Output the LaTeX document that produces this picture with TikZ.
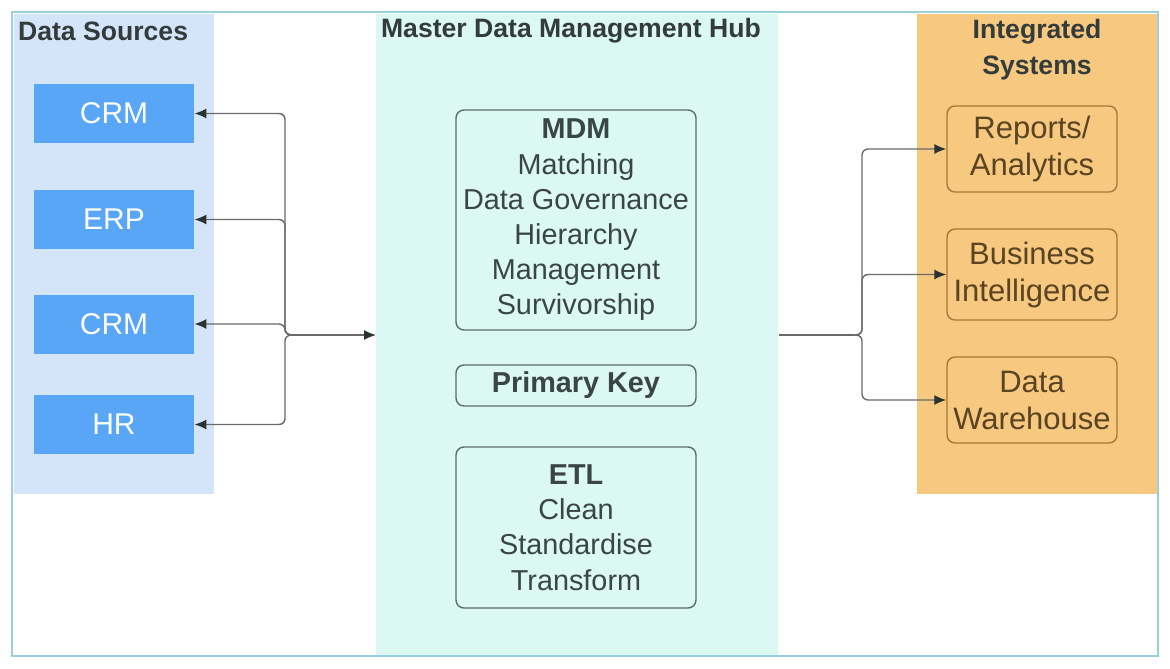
\documentclass[tikz,border=0pt]{standalone}
\usepackage{fontspec}
\setmainfont{Liberation Sans}
\usepackage{tikz}
\usetikzlibrary{arrows.meta}

\definecolor{srcbg}{HTML}{D5E5F9}
\definecolor{hubbg}{HTML}{DCF8F3}
\definecolor{sysbg}{HTML}{F6C880}
\definecolor{srcblue}{HTML}{58A6F5}
\definecolor{hubline}{HTML}{5E6B6A}
\definecolor{hubtext}{HTML}{3A4644}
\definecolor{sysline}{HTML}{A57A35}
\definecolor{systext}{HTML}{5A4422}
\definecolor{titletext}{HTML}{333B3B}
\definecolor{connline}{HTML}{6A6A6A}
\definecolor{tipcol}{HTML}{2A3232}
\definecolor{frameline}{HTML}{9AD0DC}

\begin{document}
\begin{tikzpicture}[x=0.5pt,y=-0.5pt,
  panel/.style={anchor=north west,inner sep=0pt},
  title/.style={font=\bfseries\fontsize{13.3}{18}\selectfont,text=titletext},
  src/.style={fill=srcblue,text=white,minimum width=80pt,minimum height=29.5pt,inner sep=0pt,font=\fontsize{15}{18}\selectfont},
  hubbox/.style={draw=hubline,line width=0.7pt,rounded corners=4pt,minimum width=120pt,inner sep=0pt,align=center,text=hubtext,font=\fontsize{14.4}{17.6}\selectfont},
  sysbox/.style={draw=sysline,line width=0.7pt,rounded corners=4pt,minimum width=85pt,inner sep=0pt,align=center,text=systext,font=\fontsize{15.5}{18.5}\selectfont},
  conn/.style={draw=connline,line width=0.7pt,rounded corners=3pt},
  tip/.style={-{Latex[length=6pt,width=5pt,color=tipcol]}}
]

\useasboundingbox (0,0) rectangle (1170,668);
\fill[white] (0,0) rectangle (1170,668);

% the three columns
\node[panel,fill=srcbg,minimum width=100pt,minimum height=240pt] (srcpanel) at (14,14) {};
\node[panel,fill=hubbg,minimum width=201pt,minimum height=320.5pt] (hubpanel) at (376,14) {};
\node[panel,fill=sysbg,minimum width=120pt,minimum height=240pt] (syspanel) at (917,14) {};

\draw[frameline,line width=1pt] (12,12) rectangle (1158,656);

\node[title,anchor=west] (srctitle) at (11,31) {Data Sources};
\node[title] (hubtitle) at (571,31) {Master Data Management Hub};
\node[title,align=center] (systitle) at (1037,50) {Integrated\\Systems};

% sources
\node[src] (crm) at (114,113.5) {CRM};
\node[src] (erp) at (114,219.5) {ERP};
\node[src] (crmb) at (114,324) {CRM};
\node[src] (hr) at (114,424.5) {HR};

% hub
\node[hubbox,minimum height=110pt] (mdm) at (576,220) {\textbf{MDM}\\Matching\\Data Governance\\Hierarchy\\Management\\Survivorship};
\node[hubbox,minimum height=20.5pt,font=\bfseries\fontsize{14.4}{17.6}\selectfont] (pkey) at (576,385.5) {Primary Key};
\node[hubbox,minimum height=80.5pt] (etl) at (576,527.5) {\textbf{ETL}\\Clean\\Standardise\\Transform};

% integrated systems
\node[sysbox,minimum height=43pt] (rep) at (1032,149) {Reports/\\Analytics};
\node[sysbox,minimum height=45.5pt] (bi) at (1032,274.5) {Business\\Intelligence};
\node[sysbox,minimum height=43pt] (dw) at (1032,400) {Data\\Warehouse};

\coordinate (lj) at (290,335);
\coordinate (lbus) at (285,335);
\coordinate (rj) at (853,335);
\coordinate (rbus) at (862,335);

% left bracket
\foreach \s in {crm,erp,crmb,hr}{
  \draw[conn,tip] (lj) -- (lbus) |- (\s.east);
}
\draw[conn,tip] (lj) -- (hubpanel.west |- lj);

% right bracket
\draw[conn] (hubpanel.east |- rj) -- (rj);
\foreach \s in {rep,bi,dw}{
  \draw[conn,tip] (rj) -- (rbus) |- (\s.west);
}

\end{tikzpicture}
\end{document}
